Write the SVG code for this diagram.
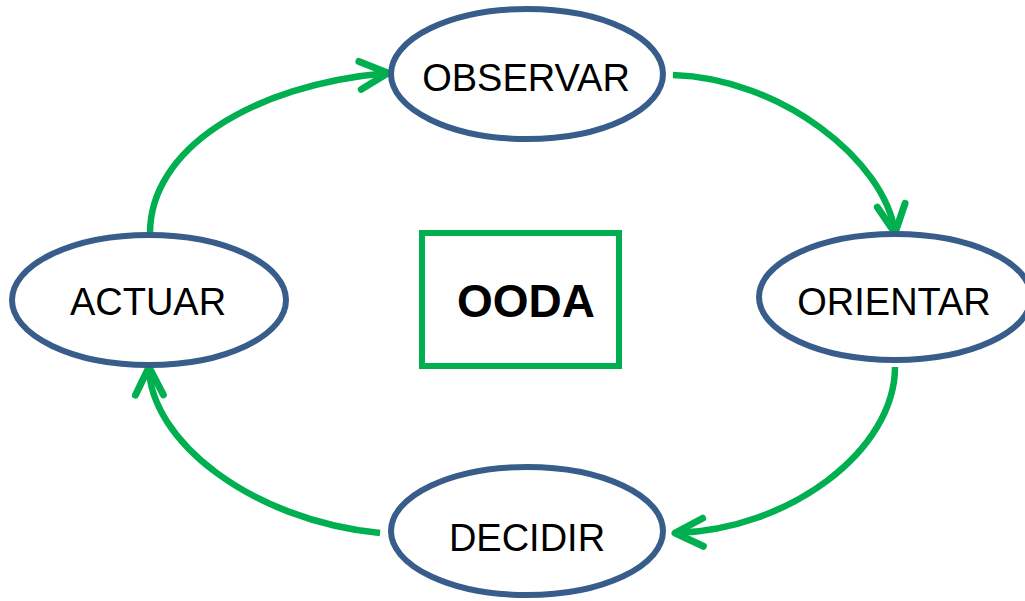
<svg xmlns="http://www.w3.org/2000/svg" width="1025" height="601" viewBox="0 0 1025 601">
<style>
.node{fill:#fff;stroke:#385D8A;stroke-width:6}
.lbl{font-family:"Liberation Sans",Arial,sans-serif;font-size:38px;fill:#000;text-anchor:middle}
.conn{fill:none;stroke:#00B050;stroke-width:6.5;marker-end:url(#ah)}
</style>
<defs>
<marker id="ah" markerUnits="userSpaceOnUse" viewBox="-36 -20 42 40" markerWidth="42" markerHeight="40" refX="0" refY="0" orient="auto">
<path d="M-28,-14 L0,0 L-28,14" fill="none" stroke="#00B050" stroke-width="7" stroke-linecap="round" stroke-linejoin="round"/>
</marker>
</defs>
<rect width="1025" height="601" fill="#fff"/>
<g id="connectors">
<path class="conn" d="M150 233 C 150 150, 250 85, 388 73"/>
<path class="conn" d="M673 75 C 780 78, 885 160, 895 233"/>
<path class="conn" d="M895 367 C 895 450, 790 530, 675 533"/>
<path class="conn" d="M380 533 C 250 520, 150 440, 149 367"/>
</g>
<g id="observar">
<ellipse class="node" cx="527" cy="74" rx="136" ry="65"/>
<text class="lbl" x="526" y="91">OBSERVAR</text>
</g>
<g id="orientar">
<ellipse class="node" cx="895" cy="297" rx="136" ry="63"/>
<text class="lbl" x="894" y="315">ORIENTAR</text>
</g>
<g id="decidir">
<ellipse class="node" cx="527" cy="531" rx="136" ry="64"/>
<text class="lbl" x="527" y="551">DECIDIR</text>
</g>
<g id="actuar">
<ellipse class="node" cx="149" cy="300" rx="137" ry="65"/>
<text class="lbl" x="148" y="315">ACTUAR</text>
</g>
<g id="ooda">
<rect x="422" y="233" width="197" height="133" fill="#fff" stroke="#00B050" stroke-width="6"/>
<text x="526" y="317" font-family="'Liberation Sans',Arial,sans-serif" font-size="46" font-weight="bold" text-anchor="middle" fill="#000">OODA</text>
</g>
</svg>
